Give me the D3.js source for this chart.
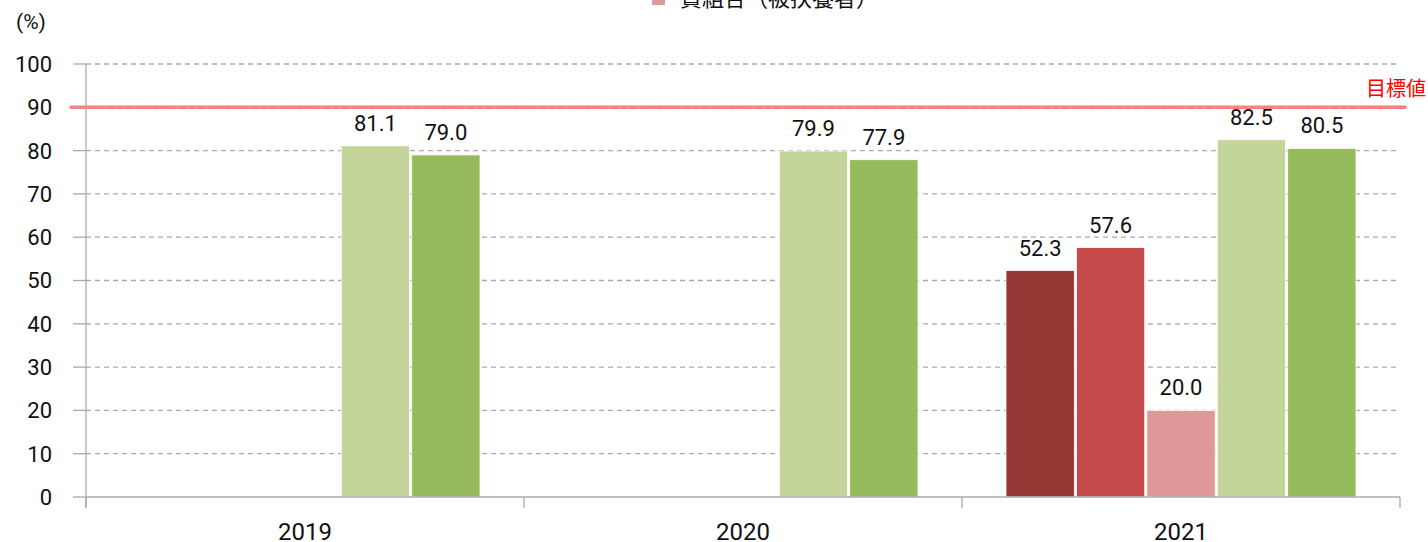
<!DOCTYPE html>
<html><head><meta charset="utf-8">
<script src="https://cdn.jsdelivr.net/npm/d3@7"></script>
<style>body{margin:0;background:#fff}svg{display:block}</style>
</head><body>
<svg id="c" width="1428" height="542"></svg>
<script>
const categories = ["2019", "2020", "2021"];
const seriesNames = ["貴組合（全体）", "貴組合（被保険者）", "貴組合（被扶養者）", "全組合平均（全体）", "全組合平均（被保険者）"];
const seriesColors = ["#953735", "#c44b4a", "#dd9897", "#c3d59a", "#95bb5c"];
const s1 = [null, null, 52.3];
const s2 = [null, null, 57.6];
const s3 = [null, null, 20.0];
const s4 = [81.1, 79.9, 82.5];
const s5 = [79.0, 77.9, 80.5];
const seriesValues = [s1, s2, s3, s4, s5];
const yTicks = [0, 10, 20, 30, 40, 50, 60, 70, 80, 90, 100];
const targetValue = 90;
const targetLabel = "目標値";
const unitLabel = "(%)";

const svg = d3.select("#c");
const font = "Roboto, 'Noto Sans CJK JP', sans-serif";
const cjk = "'Noto Sans CJK JP', sans-serif";
const L = 86, R = 1400, T = 64, B = 497;
const x = d3.scaleBand().domain(categories).range([L, R]).paddingInner(0).paddingOuter(0);
const inner = d3.scaleBand().domain(d3.range(seriesNames.length)).range([44, x.bandwidth() - 44]).paddingInner(0.03);
const y = d3.scaleLinear().domain([0, 100]).range([B, T]);

// target line (beneath gridlines)
svg.append("line").attr("x1", 71).attr("x2", 1405).attr("y1", y(targetValue)).attr("y2", y(targetValue))
  .attr("stroke", "#ff7c80").attr("stroke-width", 3.5).attr("stroke-linecap", "round");

// gridlines
svg.append("g").selectAll("line").data(yTicks.filter(d => d > 0)).join("line")
  .attr("x1", L).attr("x2", R).attr("y1", d => y(d)).attr("y2", d => y(d))
  .attr("stroke", "#aaa").attr("stroke-width", 1.3).attr("stroke-dasharray", "5,4");
// tick stubs left of axis
svg.append("g").selectAll("line").data(yTicks).join("line")
  .attr("x1", L - 13).attr("x2", L).attr("y1", d => y(d)).attr("y2", d => y(d))
  .attr("stroke", "#aaa").attr("stroke-width", 1.3);

// y labels
svg.append("g").selectAll("text").data(yTicks).join("text")
  .attr("x", 52).attr("y", d => y(d)).attr("dy", "0.36em").attr("text-anchor", "end")
  .attr("font-family", font).attr("font-size", 22).attr("fill", "#111").text(d => d);
svg.append("text").attr("x", 16).attr("y", 29).attr("font-family", font).attr("font-size", 21)
  .attr("fill", "#111").text(unitLabel);

// bars
const g = svg.append("g");
seriesValues.forEach((vals, si) => {
  const pts = categories.map((c, i) => ({c, v: vals[i]})).filter(d => d.v != null);
  g.selectAll(".b" + si).data(pts).join("rect")
    .attr("x", d => x(d.c) + inner(si)).attr("width", inner.bandwidth())
    .attr("y", d => y(d.v)).attr("height", d => B - y(d.v))
    .attr("fill", seriesColors[si]).attr("stroke", "#fff").attr("stroke-width", 0.8);
  g.selectAll(".t" + si).data(pts).join("text")
    .attr("x", d => x(d.c) + inner(si) + inner.bandwidth() / 2).attr("y", d => y(d.v) - 15)
    .attr("text-anchor", "middle").attr("font-family", font).attr("font-size", 22).attr("fill", "#111")
    .text(d => d.v.toFixed(1));
});

// axes
svg.append("line").attr("x1", L).attr("x2", L).attr("y1", T).attr("y2", B + 11).attr("stroke", "#aaa").attr("stroke-width", 1.3);
svg.append("line").attr("x1", L).attr("x2", R).attr("y1", B).attr("y2", B).attr("stroke", "#aaa").attr("stroke-width", 1.6);
svg.append("g").selectAll("line").data(categories.concat(["end"])).join("line")
  .attr("x1", (d, i) => L + i * x.bandwidth()).attr("x2", (d, i) => L + i * x.bandwidth())
  .attr("y1", B).attr("y2", B + 11).attr("stroke", "#aaa").attr("stroke-width", 1.3);
svg.append("g").selectAll("text").data(categories).join("text")
  .attr("x", d => x(d) + x.bandwidth() / 2).attr("y", 540).attr("text-anchor", "middle")
  .attr("font-family", font).attr("font-size", 24).attr("fill", "#111").text(d => d);

svg.append("text").attr("x", 1426).attr("y", 96).attr("text-anchor", "end")
  .attr("font-family", cjk).attr("font-size", 20).attr("fill", "#ff0000").text(targetLabel);

// legend (rows above the visible area; only the last row peeks in)
const leg = svg.append("g").attr("font-family", cjk).attr("font-size", 22).attr("fill", "#111");
const legPos = [[652, -64], [652, -34], [652, 6], [920, -64], [920, -34]];
seriesNames.forEach((n, i) => {
  leg.append("rect").attr("x", legPos[i][0]).attr("y", legPos[i][1] - 14).attr("width", 13).attr("height", 13).attr("fill", seriesColors[i]);
  leg.append("text").attr("x", legPos[i][0] + 28).attr("y", legPos[i][1]).text(n);
});
</script>
</body></html>
